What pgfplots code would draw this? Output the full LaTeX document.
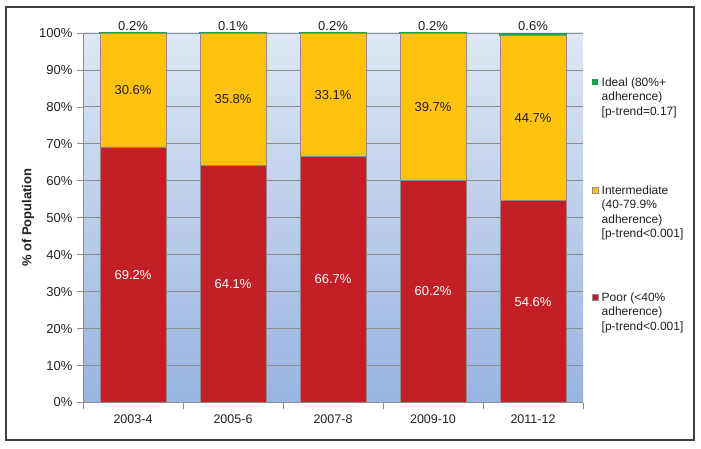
\documentclass[border=0pt]{standalone}
\usepackage{pgfplots}
\pgfplotsset{compat=1.18}
\usepackage{fontspec}
\setmainfont{Liberation Sans}
\definecolor{cpoor}{HTML}{C21F26}
\definecolor{cmid}{HTML}{FFC20E}
\definecolor{cideal}{HTML}{1FA14A}
\definecolor{bgtop}{HTML}{DEE7F5}
\definecolor{bgbot}{HTML}{98B4E0}
\definecolor{gridc}{HTML}{8C8C8C}
\definecolor{framec}{HTML}{404040}
\definecolor{txt}{HTML}{231F20}
\begin{document}
\begin{tikzpicture}
\path (0pt,0pt) rectangle (701pt,448pt);
\draw[line width=1.6pt, framec] (6pt,8pt) rectangle (694pt,441pt);
\begin{axis}[
  at={(83pt,45.5pt)}, anchor=south west,
  scale only axis, width=500pt, height=369.5pt,
  ybar stacked, bar width=0.66,
  xmin=-0.5, xmax=4.5, ymin=0, ymax=100,
  axis background/.style={shade, top color=bgtop, bottom color=bgbot},
  axis x line=bottom, axis y line=left,
  axis line style={-, draw=gridc, line width=0.8pt},
  xtick={0,1,2,3,4},
  xticklabels={2003-4,2005-6,2007-8,2009-10,2011-12},
  major x tick style={draw=none},
  minor xtick={-0.5,0.5,1.5,2.5,3.5,4.5},
  minor tick length=6pt,
  minor x tick style={draw=gridc, line width=0.8pt},
  ytick={0,10,...,100},
  yticklabels={0\%,10\%,20\%,30\%,40\%,50\%,60\%,70\%,80\%,90\%,100\%},
  major tick length=6pt,
  y tick style={draw=gridc, line width=0.8pt},
  tick align=outside,
  ymajorgrids, grid style={gridc, line width=0.9pt},
  xticklabel style={font=\fontsize{12.5}{14}\selectfont, color=txt, yshift=-3pt},
  yticklabel style={font=\fontsize{13}{15}\selectfont, color=txt, xshift=-1pt},
  ylabel={\% of Population},
  every axis y label/.style={at={(axis description cs:0,0.5)}, rotate=90, anchor=center, yshift=55pt, font=\bfseries\fontsize{13}{15}\selectfont, color=txt},
  every axis plot/.append style={draw=gridc, line width=0.6pt},
]
\addplot[fill=cpoor] coordinates {(0,69.2) (1,64.1) (2,66.7) (3,60.2) (4,54.6)};
\addplot[fill=cmid] coordinates {(0,30.6) (1,35.8) (2,33.1) (3,39.7) (4,44.7)};
\addplot[fill=cideal, draw=cideal, line width=1.3pt] coordinates {(0,0.2) (1,0.1) (2,0.2) (3,0.2) (4,0.6)};
\end{axis}
\begin{axis}[
  at={(83pt,45.5pt)}, anchor=south west,
  scale only axis, width=500pt, height=369.5pt,
  xmin=-0.5, xmax=4.5, ymin=0, ymax=100,
  hide axis, clip=false,
]
\addplot[only marks, mark=none, nodes near coords, point meta=explicit symbolic,
  nodes near coords style={anchor=center, font=\fontsize{13}{15}\selectfont, text=white}]
  coordinates {(0,34.6)[69.2\%] (1,32.05)[64.1\%] (2,33.35)[66.7\%] (3,30.1)[60.2\%] (4,27.3)[54.6\%]};
\addplot[only marks, mark=none, nodes near coords, point meta=explicit symbolic,
  nodes near coords style={anchor=center, font=\fontsize{13}{15}\selectfont, text=txt}]
  coordinates {(0,84.5)[30.6\%] (1,82.0)[35.8\%] (2,83.25)[33.1\%] (3,80.05)[39.7\%] (4,76.95)[44.7\%]};
\addplot[only marks, mark=none, nodes near coords, point meta=explicit symbolic,
  nodes near coords style={anchor=south, yshift=-1pt, font=\fontsize{13}{15}\selectfont, text=txt}]
  coordinates {(0,100)[0.2\%] (1,100)[0.1\%] (2,100)[0.2\%] (3,100)[0.2\%] (4,100)[0.6\%]};
\end{axis}
% legend
\begin{scope}[every node/.style={anchor=north west, inner sep=0pt, align=left, font=\fontsize{12}{14.5}\selectfont, text=txt}]
\fill[cideal] (592pt,363pt) rectangle (598pt,369pt);
\node at (601.5pt,370.5pt) {Ideal (80\%+\\adherence)\\{[p-trend=0.17]}};
\fill[cmid, draw=gridc, line width=0.4pt] (592pt,255pt) rectangle (598pt,261pt);
\node at (601.5pt,262.5pt) {Intermediate\\(40-79.9\%\\adherence)\\{[p-trend<0.001]}};
\fill[cpoor, draw=gridc, line width=0.4pt] (592pt,148pt) rectangle (598pt,154pt);
\node at (601.5pt,155.5pt) {Poor (<40\%\\adherence)\\{[p-trend<0.001]}};
\end{scope}
\end{tikzpicture}
\end{document}
